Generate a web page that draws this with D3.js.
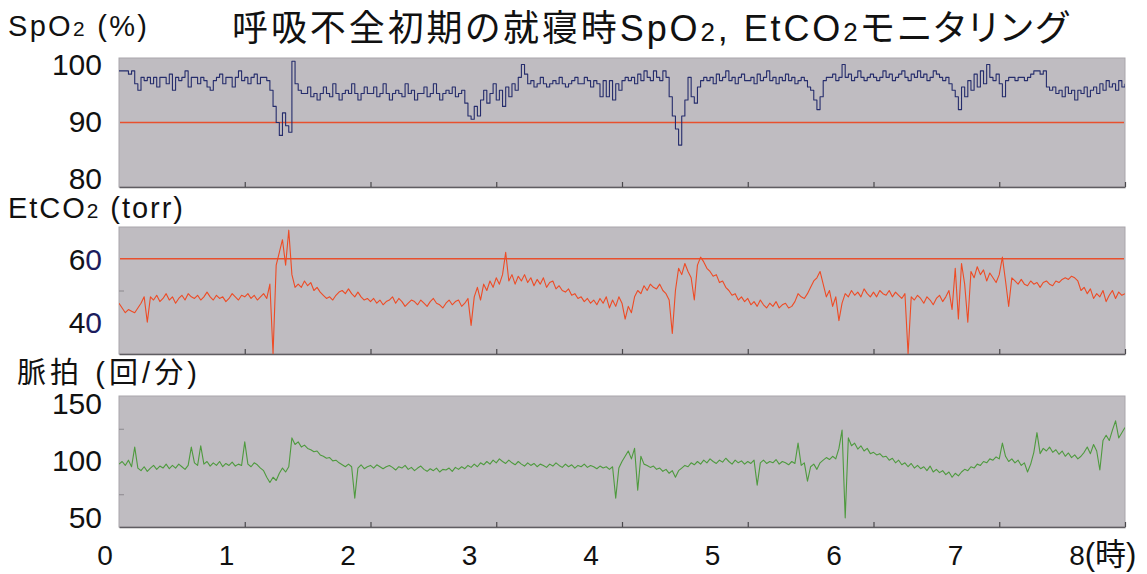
<!DOCTYPE html>
<html>
<head>
<meta charset="utf-8">
<script src="https://cdn.jsdelivr.net/npm/d3@7"></script>
<style>
  body { margin: 0; background: #fff; }
  svg { display: block; }
  text { font-family: "Liberation Sans", Arial, "Noto Sans CJK JP", sans-serif; fill: #111; }
</style>
</head>
<body>
<div id="chart"></div>
<script>
// one sample every 0.025 h (1.5 min), 0 .. 8 h
const dt = 0.025;

const spo2Values = [
  98, 98, 98, 97.5, 98, 96, 95, 97, 96.5, 97,
  96, 97, 95.5, 97, 97, 96, 97.5, 95, 97, 96.5,
  97, 98, 95.5, 97, 97, 96, 97, 96.5, 95.5, 95,
  96.5, 97, 97.5, 96, 97, 97, 95.5, 97, 98, 96.5,
  97, 96, 97, 97.5, 96, 97, 97, 96.5, 95, 92.5,
  90, 88, 91.5, 89.5, 88.5, 99.5, 96, 95, 94.5, 94.5,
  95.5, 94, 94.5, 93.5, 94.5, 95.5, 94.5, 94, 96, 94.5,
  93.5, 94.5, 95, 94.5, 96, 94.5, 93.5, 94.5, 95.5, 94.5,
  94.5, 95.5, 94, 94.5, 96, 94.5, 93.5, 94.5, 95, 94.5,
  94, 96, 94.5, 95, 93.5, 94.5, 94.5, 95.5, 94, 94.5,
  96, 94.5, 93.5, 94.5, 95, 94.5, 95.5, 94, 94.5, 95,
  93, 91, 90.5, 92.5, 91, 93.5, 95, 93, 94.5, 96,
  93.5, 95, 92.5, 95.5, 94, 96, 95, 97, 99, 97.5,
  96, 96.5, 95.5, 96, 97, 96, 95.5, 96, 96.5, 96,
  97, 96, 95.5, 96, 96.5, 97, 96, 96, 97, 96.5,
  95.5, 96.5, 96, 94, 96.5, 94, 96.5, 93.5, 96, 95,
  96.5, 97, 96.5, 97, 96, 97.5, 96.5, 98, 97, 96.5,
  98, 97, 96.5, 98, 97, 94, 91, 89, 86.5, 91,
  93.5, 97, 94, 93, 95.5, 96.5, 97, 96.5, 97, 96,
  97.5, 96.5, 97, 98, 96.5, 97, 96, 97, 97.5, 96.5,
  96.5, 97, 96, 97.5, 96.5, 97, 98, 96.5, 97, 96,
  97, 96.5, 97.5, 96.5, 97, 96, 96.5, 97, 96.5, 95.5,
  95, 93.5, 92, 94, 96.5, 97, 97, 97.5, 96.5, 97,
  99, 97, 97.5, 96.5, 97, 98, 97, 96.5, 97, 97.5,
  97, 96.5, 97, 98, 97, 97.5, 96.5, 97, 97.5, 98,
  97, 96.5, 97.5, 97, 98, 97, 97.5, 96.5, 97, 98,
  97.5, 97, 96.5, 97, 96, 95, 94, 92, 95.5, 94,
  96.5, 95, 97.5, 95.5, 98, 96, 99, 97, 96.5, 97.5,
  96, 94, 96.5, 97, 97, 96.5, 97, 97, 96.5, 97,
  97.5, 98, 98, 97.5, 98, 95.5, 95, 95.5, 94.5, 95,
  94, 95.5, 94.5, 95, 93.5, 95, 94.5, 95.5, 94, 95,
  95.5, 94.5, 96, 95, 96.5, 95.5, 96, 95, 96.5, 95.5,
  96
];

const etco2Values = [
  46, 44.5, 43, 44, 43.5, 43, 44.5, 46, 48, 40,
  48, 47, 48.5, 46.5, 47.5, 49, 47, 48, 46, 47.5,
  48.5, 47, 49, 48, 47.5, 48.5, 47, 48, 49.5, 48,
  47, 48.5, 47.5, 48, 46.5, 47.5, 49, 48, 47, 48.5,
  48, 49, 47.5, 48.5, 47, 48, 49, 47.5, 52, 30,
  58, 62, 66, 58, 69, 55, 51, 52, 51, 53,
  51.5, 52.5, 50, 51, 49.5, 48.5, 47.5, 48, 47, 48.5,
  49.5, 50, 49, 50.5, 49, 48, 49.5, 48, 47, 47.5,
  46.5, 47.5, 46, 47, 45.5, 46.5, 47, 48, 46, 47.5,
  46.5, 45, 46, 47, 46.5, 45.5, 47, 46, 45, 46.5,
  47.5, 46, 45.5, 44.5, 46, 47, 45.5, 46.5, 47, 45,
  46, 47.5, 39, 48, 51, 47, 52, 50, 53, 51,
  54, 52, 55, 62, 53, 55, 52, 54.5, 53, 55,
  52.5, 54, 51.5, 53.5, 52, 54, 51, 52.5, 53, 50.5,
  51.5, 50, 49.5, 50.5, 48.5, 49, 47.5, 48, 46.5, 47.5,
  46, 47, 45.5, 47.5, 46, 48, 44.5, 47, 45, 48,
  46, 41, 45, 43, 48, 50, 49, 51.5, 50, 52,
  51, 50.5, 52, 50, 49, 47, 36.5, 50, 57, 55,
  58.5, 56, 54, 47, 58, 60.5, 59, 57, 56, 54.5,
  55, 52.5, 53, 51, 50, 48.5, 49, 47, 48, 46.5,
  47.5, 45.5, 46.5, 45, 47, 45.5, 44.5, 46, 45, 46.5,
  44.5, 45.5, 46, 44.5, 45, 46.5, 49, 48, 47.5, 49,
  51, 53, 54, 56, 52, 48, 50, 45, 48, 40.5,
  46, 49, 48, 50, 48.5, 49.5, 48, 50.5, 49, 48,
  49.5, 48, 50, 49, 48.5, 50, 48, 49.5, 48.5, 47.5,
  49, 30, 48, 47, 48.5, 47.5, 46, 48, 47, 45.5,
  47.5, 48.5, 46.5, 48, 50, 44, 57, 41, 58.5, 52,
  40, 56, 54, 57.5, 55, 56.5, 53, 55.5, 54, 52.5,
  55, 60.5, 53, 45, 54, 53, 52, 53.5, 52, 51.5,
  53, 52, 52.5, 51, 52.5, 53, 52, 51.5, 53, 52.5,
  53.5, 54, 53.5, 54.5, 54, 53, 50, 51, 49, 50.5,
  47.5, 49, 48, 50, 46.5, 48.5, 50, 47.5, 49.5, 48.5,
  49
];

const pulseValues = [
  98, 100, 97, 101, 96, 111, 95, 93, 96, 92.5,
  95, 97, 94, 96.5, 95, 98, 94.5, 97, 95, 98,
  96, 94, 97, 111, 99, 97, 112, 98, 100, 96.5,
  99, 97, 100, 96, 98.5, 97, 99.5, 96.5, 98, 97,
  115, 98, 96, 99, 97.5, 95, 93, 88, 84, 88,
  85.5, 91, 95, 92, 96, 118, 113, 115, 111, 112.5,
  110, 109, 107.5, 108, 105, 104, 102.5, 103, 100.5, 101,
  99, 97.5, 96, 98, 96, 72, 95, 97.5, 94.5, 96,
  97, 95, 97.5, 96, 94.5, 96, 97, 95.5, 93.5, 96,
  95, 97, 94, 95.5, 93, 95, 96.5, 94, 92.5, 94.5,
  93, 95, 92, 94, 93.5, 95, 92.5, 95.5, 94, 96,
  94.5, 97, 95.5, 98, 96, 99, 97.5, 100, 98, 101,
  99, 102, 100, 98.5, 101, 99, 97.5, 100, 98, 96.5,
  99, 97, 98.5, 96, 98, 97, 95.5, 98, 96.5, 99,
  97, 95.5, 98, 96, 97.5, 95, 97, 96, 98, 95.5,
  97, 96, 94.5, 96.5, 95, 96, 94, 96, 72, 95,
  100, 104, 108, 102, 110, 78, 104, 98, 97, 95.5,
  96.5, 94, 95, 92.5, 94, 91, 93, 88, 93, 95,
  97, 96, 99, 97.5, 100, 98, 101, 99, 102, 100,
  98.5, 101, 99.5, 102.5, 100, 98, 101, 99, 100.5, 98,
  100, 98.5, 101, 82, 99, 101, 98.5, 100, 99, 101.5,
  98, 100, 99, 97.5, 100, 98.5, 114, 97, 99, 85,
  96, 98, 94, 99, 101, 103, 101.5, 104, 102, 110,
  124, 57, 118, 112, 114, 109.5, 112, 108, 110, 106,
  107, 105, 106, 103.5, 104, 101, 102.5, 99, 101, 97.5,
  99, 96, 98.5, 95, 97, 94.5, 96, 93, 96.5, 92,
  94, 91.5, 93, 90, 92, 88, 91, 89, 92, 94,
  93, 96, 95, 98, 97, 100, 99, 102, 101, 103.5,
  102, 114, 104, 100, 102, 99, 101, 97, 99, 92,
  98, 107, 122, 106, 110, 108, 111, 107, 109, 105.5,
  108, 104, 106.5, 103, 105, 102, 104, 107, 111, 106,
  113, 108, 93.5, 116, 120, 116, 124, 131, 118, 122,
  126
];

const hourTicks = [0, 1, 2, 3, 4, 5, 6, 7, 8];
const hourLabels = ["0", "1", "2", "3", "4", "5", "6", "7", "8"];
const hourUnit = "(時)";
const spo2Ticks = [100, 90, 80];
const etco2Ticks = [60, 40];
const pulseTicks = [150, 100, 50];
const spo2Limit = 90;
const etco2Limit = 60;

const width = 1147;
const height = 574;
const plotLeft = 119, plotRight = 1125;

const svg = d3.select("#chart")
    .append("svg")
    .attr("width", width)
    .attr("height", height);

const x = d3.scaleLinear().domain([0, 8]).range([plotLeft, plotRight]);
// hour labels below the last panel sit on their own slightly narrower grid
const xLabel = d3.scaleLinear().domain([0, 8]).range([105, 1077]);

function richText(sel, parts) {
    parts.forEach(p => {
        sel.append("tspan")
            .style("font-size", p[1] ? "0.72em" : null)
            .text(p[0]);
    });
    return sel;
}

// title
richText(svg.append("text")
    .attr("x", 232)
    .attr("y", 41)
    .attr("textLength", 836)
    .attr("lengthAdjust", "spacing")
    .style("font-size", "36px")
    .style("font-feature-settings", "'palt'"),
    [["呼吸不全初期の就寝時SpO"], ["2", 1], [", EtCO"], ["2", 1], ["モニタリング"]]);

const panels = [
    {
        values: spo2Values, domain: [80, 100], top: 58, bottom: 187,
        ticks: spo2Ticks, labelRange: [178.5, 64], minor: [],
        limit: spo2Limit, color: "#252c6c", curve: d3.curveStepAfter,
        title: [["SpO"], ["2", 1], [" (%)"]], titleX: 8, titleY: 36, titleLen: 139,
        zeroColor: "#111"
    },
    {
        values: etco2Values, domain: [30, 70], top: 227, bottom: 354,
        ticks: etco2Ticks, labelRange: [322, 259], minor: [50],
        limit: etco2Limit, color: "#ee4b25", curve: d3.curveLinear,
        title: [["EtCO"], ["2", 1], [" (torr)"]], titleX: 8, titleY: 218, titleLen: 175,
        zeroColor: "#1c1c5e"
    },
    {
        values: pulseValues, domain: [50, 150], top: 396, bottom: 527,
        ticks: pulseTicks, labelRange: [517, 403], minor: [75, 125],
        limit: null, color: "#4e9a3e", curve: d3.curveLinear,
        title: [["脈拍 (回/分)"]], titleX: 17, titleY: 383, titleLen: 180,
        zeroColor: "#111"
    }
];

panels.forEach((p, k) => {
    const y = d3.scaleLinear().domain(p.domain).range([p.bottom, p.top]);
    // tick labels are set a little inside the panel ends, as in the slide
    const yLabel = d3.scaleLinear().domain(d3.extent(p.ticks)).range(p.labelRange);

    svg.append("rect")
        .attr("x", plotLeft)
        .attr("y", p.top)
        .attr("width", plotRight - plotLeft)
        .attr("height", p.bottom - p.top)
        .attr("fill", "#bfbcc1")
        .attr("stroke", "#a9a6ab")
        .attr("stroke-width", 1);

    svg.append("clipPath")
        .attr("id", "clip" + k)
        .append("rect")
        .attr("x", plotLeft)
        .attr("y", p.top)
        .attr("width", plotRight - plotLeft)
        .attr("height", p.bottom - p.top);

    // inner minor ticks on the left edge
    const leftAxis = svg.append("g")
        .attr("transform", `translate(${plotLeft},0)`)
        .call(d3.axisLeft(y).tickValues(p.minor).tickSize(-5).tickFormat(""));
    leftAxis.select(".domain").remove();
    leftAxis.selectAll("line").attr("stroke", "#8c898e");

    // bottom axis with inward hour ticks
    const bottomAxis = svg.append("g")
        .attr("transform", `translate(0,${p.bottom})`)
        .call(d3.axisBottom(x).tickValues(hourTicks.slice(1)).tickSize(-5).tickSizeOuter(0).tickFormat(""));
    bottomAxis.select(".domain").attr("stroke", "#5f5d62").attr("stroke-width", 1.3);
    bottomAxis.selectAll("line").attr("stroke", "#4a484c").attr("stroke-width", 1.2);

    if (p.limit !== null) {
        svg.append("line")
            .attr("x1", x(0) + 1)
            .attr("x2", x(8) - 1)
            .attr("y1", y(p.limit))
            .attr("y2", y(p.limit))
            .attr("stroke", "#e8502e")
            .attr("stroke-width", 1.6);
    }

    const line = d3.line()
        .x((d, i) => x(i * dt))
        .y(d => y(d))
        .curve(p.curve);

    svg.append("path")
        .datum(p.values)
        .attr("clip-path", `url(#clip${k})`)
        .attr("d", line)
        .attr("fill", "none")
        .attr("stroke", p.color)
        .attr("stroke-width", 1.1)
        .attr("stroke-linejoin", "round");

    // y labels
    p.ticks.forEach(v => {
        const s = String(v);
        const t = svg.append("text")
            .attr("x", 102)
            .attr("y", yLabel(v))
            .attr("dy", "0.36em")
            .attr("text-anchor", "end")
            .style("font-size", "30px");
        t.append("tspan").text(s.slice(0, -1));
        t.append("tspan").style("fill", p.zeroColor).text(s.slice(-1));
    });

    richText(svg.append("text")
        .attr("x", p.titleX)
        .attr("y", p.titleY)
        .attr("textLength", p.titleLen)
        .attr("lengthAdjust", "spacing")
        .style("font-size", "29px"),
        p.title);
});

// hour labels
const hourText = svg.append("g")
    .selectAll("text")
    .data(hourTicks)
    .enter()
    .append("text")
    .attr("x", d => xLabel(d))
    .attr("y", 565)
    .attr("dx", "-0.28em")
    .style("font-size", "28px")
    .text((d, i) => hourLabels[i]);

hourText.filter(d => d === 8)
    .append("tspan")
    .style("font-size", "31px")
    .text(hourUnit);
</script>
</body>
</html>
